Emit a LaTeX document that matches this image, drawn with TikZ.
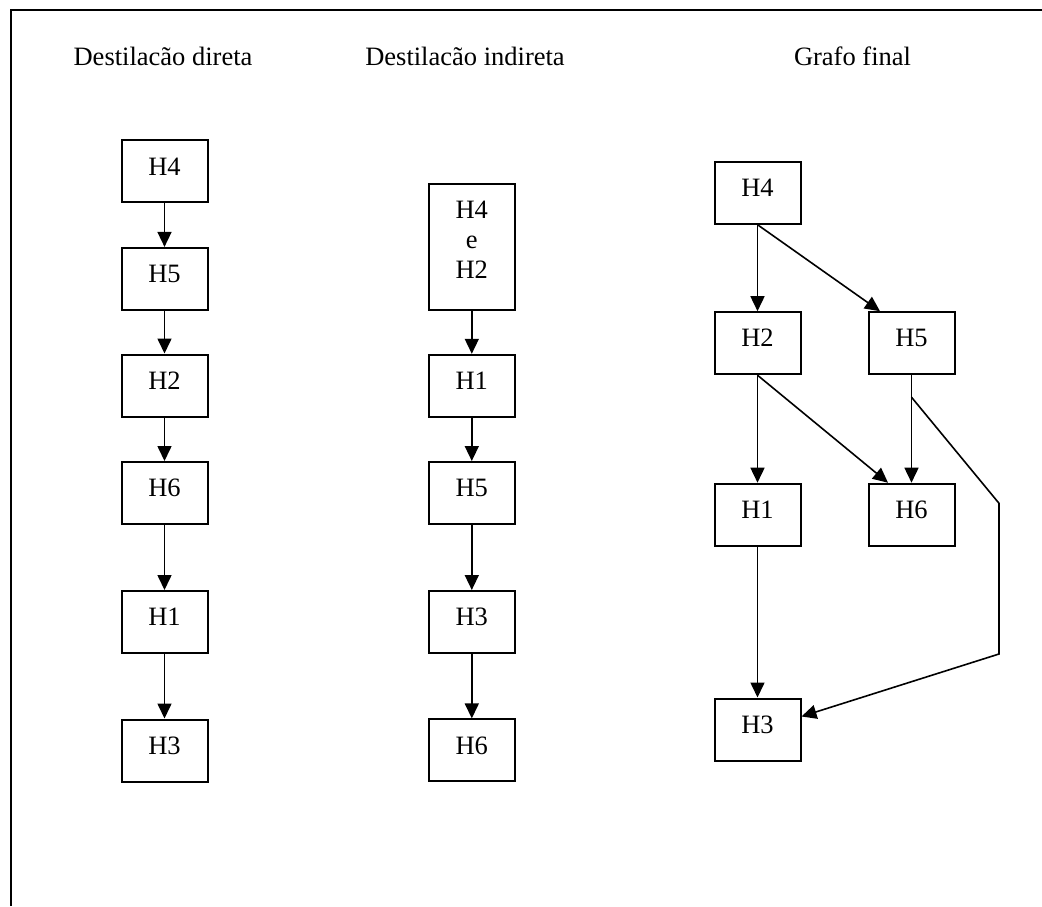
\documentclass[tikz,border=0pt]{standalone}
\usepackage{fontspec}
\setmainfont{Liberation Serif}
\usetikzlibrary{arrows.meta,calc}
\begin{document}
\begin{tikzpicture}[x=1pt,y=-1pt,
  font=\fontsize{26.5}{30}\selectfont,
  box/.style={draw, line width=2pt, minimum width=86pt, minimum height=62pt, inner sep=0pt, text height=17.5pt, text depth=10.1pt},
  tallbox/.style={box, minimum height=126pt, text height=17.5pt, text depth=74.5pt},
  arr/.style={line width=1.6pt, -{Triangle[length=15pt,width=14pt]}},
  title/.style={anchor=base, inner sep=0pt},
  frame/.style={line width=2.2pt}]
\useasboundingbox (0,0) rectangle (1042,906);
% frame
\coordinate (fb) at (11,906);
\coordinate (fc) at (11,10);
\coordinate (fr) at (1042,10);
\draw[frame] (fb) -- (fc) -- (fr);
% titles
\node[title] (t1) at (163,65) {Destilacão direta};
\node[title] (t2) at (465,65) {Destilacão indireta};
\node[title] (t3) at (852.5,65) {Grafo final};
% column 1
\node[box] (a4) at (164.5,171.3) {H4};
\node[box] (a5) at (164.5,278.9) {H5};
\node[box] (a2) at (164.5,385.5) {H2};
\node[box] (a6) at (164.5,493) {H6};
\node[box] (a1) at (164.5,622) {H1};
\node[box] (a3) at (164.5,750.5) {H3};
\draw[arr] (a4) -- (a5);
\draw[arr] (a5) -- (a2);
\draw[arr] (a2) -- (a6);
\draw[arr] (a6) -- (a1);
\draw[arr] (a1) -- (a3);
% column 2
\node[tallbox] (b42) at (471.8,246.5) {\begin{tabular}[t]{@{}c@{}}H4\\e\\H2\end{tabular}};
\node[box] (b1) at (471.8,385.8) {H1};
\node[box] (b5) at (471.8,493) {H5};
\node[box] (b3) at (471.8,622) {H3};
\node[box] (b6) at (471.8,750.4) {H6};
\draw[arr] (b42) -- (b1);
\draw[arr] (b1) -- (b5);
\draw[arr] (b5) -- (b3);
\draw[arr] (b3) -- (b6);
% column 3
\node[box] (c4) at (757.5,192.7) {H4};
\node[box] (c2) at (757.5,343.2) {H2};
\node[box] (c5) at (911.5,343.2) {H5};
\node[box] (c1) at (757.5,514.7) {H1};
\node[box] (c6) at (911.5,514.7) {H6};
\node[box] (c3) at (757.5,729.5) {H3};
\draw[arr] (c4.south) -- (c2.north);
\draw[arr] (c4.south) -- ($(c5.north)+(-31.5,0)$);
\draw[arr] (c2.south) -- (c1.north);
\draw[arr] (c2.south) -- ($(c6.north)+(-23.5,0)$);
\draw[arr] (c5.south) -- (c6.north);
\draw[arr] (c1.south) -- (c3.north);
\coordinate (p0) at ($(c5.south)+(0,22)$);
\coordinate (p1) at (999,503.3);
\coordinate (p2) at (999,654);
\draw[arr] (p0) -- (p1) -- (p2) -- ($(c3.east)+(0,-13)$);
\end{tikzpicture}
\end{document}
